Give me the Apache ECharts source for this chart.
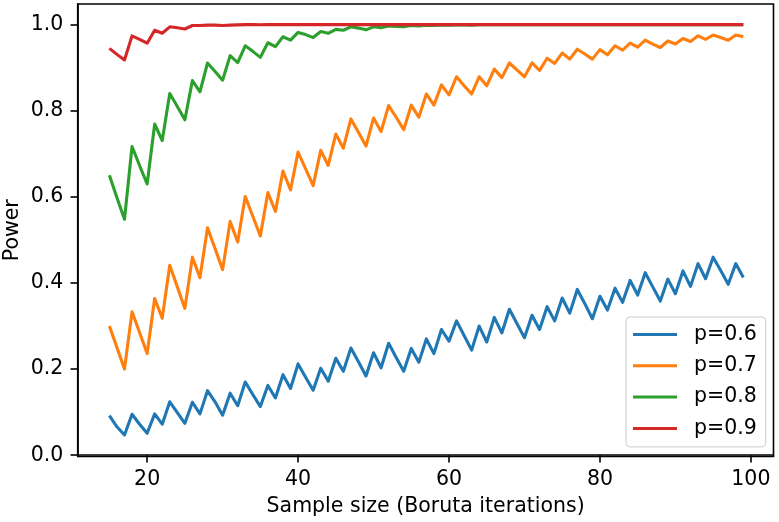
<!DOCTYPE html>
<html>
<head>
<meta charset="utf-8">
<script src="https://cdn.jsdelivr.net/npm/echarts@6/dist/echarts.min.js"></script>
<style>
html,body{margin:0;padding:0;background:#fff;}
#chart{width:779px;height:522px;}
</style>
</head>
<body>
<div id="chart"></div>
<script>
const sampleSizes = [15,16,17,18,19,20,21,22,23,24,25,26,27,28,29,30,31,32,33,34,35,36,37,38,39,40,41,42,43,44,45,46,47,48,49,50,51,52,53,54,55,56,57,58,59,60,61,62,63,64,65,66,67,68,69,70,71,72,73,74,75,76,77,78,79,80,81,82,83,84,85,86,87,88,89,90,91,92,93,94,95,96,97,98,99];

const power06 = [0.092,0.066,0.047,0.095,0.072,0.051,0.096,0.072,0.124,0.099,0.074,0.123,0.096,0.150,0.124,0.093,0.144,0.115,0.170,0.141,0.113,0.162,0.133,0.187,0.155,0.212,0.181,0.151,0.202,0.172,0.225,0.195,0.249,0.217,0.184,0.238,0.203,0.260,0.227,0.195,0.248,0.216,0.270,0.236,0.292,0.265,0.312,0.278,0.244,0.300,0.263,0.320,0.284,0.339,0.306,0.273,0.325,0.292,0.345,0.312,0.365,0.330,0.385,0.352,0.317,0.369,0.337,0.388,0.355,0.406,0.372,0.424,0.391,0.358,0.409,0.375,0.428,0.392,0.445,0.410,0.460,0.429,0.397,0.445,0.413];

const power07 = [0.300,0.250,0.200,0.333,0.285,0.236,0.364,0.318,0.441,0.391,0.341,0.460,0.412,0.528,0.480,0.431,0.543,0.495,0.601,0.555,0.509,0.610,0.566,0.660,0.616,0.704,0.665,0.626,0.708,0.673,0.746,0.713,0.781,0.750,0.718,0.783,0.752,0.812,0.785,0.756,0.813,0.785,0.839,0.813,0.860,0.837,0.879,0.858,0.839,0.879,0.858,0.897,0.877,0.911,0.895,0.879,0.911,0.894,0.922,0.910,0.934,0.920,0.943,0.932,0.920,0.942,0.930,0.951,0.941,0.957,0.948,0.964,0.955,0.947,0.962,0.955,0.968,0.961,0.974,0.966,0.976,0.970,0.964,0.976,0.972];

const power08 = [0.650,0.598,0.548,0.717,0.673,0.630,0.769,0.731,0.840,0.810,0.779,0.870,0.844,0.911,0.891,0.871,0.928,0.912,0.951,0.938,0.924,0.958,0.949,0.972,0.964,0.982,0.977,0.970,0.984,0.980,0.989,0.987,0.995,0.992,0.988,0.995,0.993,0.997,0.996,0.995,0.998,0.997,0.999,0.998,0.999,0.999,0.9995,0.9993,0.999,1.0,0.9998,1.0,1.0,1.0,1.0,1.0,1.0,1.0,1.0,1.0,1.0,1.0,1.0,1.0,1.0,1.0,1.0,1.0,1.0,1.0,1.0,1.0,1.0,1.0,1.0,1.0,1.0,1.0,1.0,1.0,1.0,1.0,1.0,1.0,1.0];

const power09 = [0.945,0.931,0.918,0.974,0.966,0.957,0.987,0.980,0.995,0.993,0.990,0.998,0.998,0.999,0.999,0.998,0.999,0.9995,1.0,1.0,0.9998,1.0,1.0,1.0,1.0,1.0,1.0,1.0,1.0,1.0,1.0,1.0,1.0,1.0,1.0,1.0,1.0,1.0,1.0,1.0,1.0,1.0,1.0,1.0,1.0,1.0,1.0,1.0,1.0,1.0,1.0,1.0,1.0,1.0,1.0,1.0,1.0,1.0,1.0,1.0,1.0,1.0,1.0,1.0,1.0,1.0,1.0,1.0,1.0,1.0,1.0,1.0,1.0,1.0,1.0,1.0,1.0,1.0,1.0,1.0,1.0,1.0,1.0,1.0,1.0];

const seriesNames = ['p=0.6','p=0.7','p=0.8','p=0.9'];
const seriesColors = ['#1f77b4','#ff7f0e','#2ca02c','#d62728'];
const xTicks = [20,40,60,80,100];
const yTicks = [0.0,0.2,0.4,0.6,0.8,1.0];
const xTitle = 'Sample size (Boruta iterations)';
const yTitle = 'Power';

const FONT = 'DejaVu Sans';
const FS = 20.5;
const LW = 3.1;
const AX = 1.6;
// legend handle: a 44px bar inside a 56px-wide icon box (12px gap before the label)
const HANDLE_ICON = 'path://M0,0L44,0L44,3L0,3Z M56,3';

const allSeries = [power06, power07, power08, power09];
const chart = echarts.init(document.getElementById('chart'), null, {renderer:'canvas'});

const series = allSeries.map((vals, i) => ({
  name: seriesNames[i],
  type: 'line',
  data: sampleSizes.map((x, j) => [x, vals[j]]),
  showSymbol: false,
  symbol: 'none',
  lineStyle: {color: seriesColors[i], width: LW, cap: 'butt', join: 'round'},
  itemStyle: {color: seriesColors[i]},
  emphasis: {disabled: true},
  z: 2 + i
}));

chart.setOption({
  animation: false,
  backgroundColor: '#ffffff',
  textStyle: {fontFamily: FONT},
  grid: {
    left: 77.7, right: 5.5, top: 4, bottom: 65.5,
    containLabel: false,
    outerBoundsMode: 'none',
    show: true, borderColor: '#000', borderWidth: AX, backgroundColor: 'transparent', z: 10
  },
  legend: {
    orient: 'vertical',
    left: 626, top: 317,
    data: seriesNames.map(n => ({name: n, icon: HANDLE_ICON})),
    selectedMode: false,
    itemWidth: 56, itemHeight: LW, itemGap: 10.3,
    padding: [7, 9, 8, 7],
    backgroundColor: 'rgba(255,255,255,0.8)',
    borderColor: '#cccccc', borderWidth: 1, borderRadius: 4,
    textStyle: {fontFamily: FONT, fontSize: FS, color: '#000', lineHeight: 20.5},
    z: 20
  },
  xAxis: {
    type: 'value', min: 10.8, max: 103.0,
    name: xTitle, nameLocation: 'middle', nameGap: 40, nameMoveOverlap: false,
    nameTextStyle: {fontFamily: FONT, fontSize: FS, color: '#000'},
    axisLine: {show: true, lineStyle: {color: '#000', width: AX}},
    axisTick: {show: true, inside: false, length: 7.2, customValues: xTicks, lineStyle: {color: '#000', width: AX}},
    axisLabel: {customValues: xTicks, margin: 13, fontFamily: FONT, fontSize: FS, color: '#000'},
    splitLine: {show: false}
  },
  yAxis: {
    type: 'value', min: -0.003, max: 1.048,
    name: yTitle, nameLocation: 'middle', nameGap: 54.6, nameMoveOverlap: false,
    nameTextStyle: {fontFamily: FONT, fontSize: FS, color: '#000'},
    axisLine: {show: true, lineStyle: {color: '#000', width: AX}},
    axisTick: {show: true, inside: false, length: 7.2, customValues: yTicks, lineStyle: {color: '#000', width: AX}},
    axisLabel: {customValues: yTicks, margin: 14.4, fontFamily: FONT, fontSize: FS, color: '#000', formatter: v => v.toFixed(1)},
    splitLine: {show: false}
  },
  series: series
});
</script>
</body>
</html>
